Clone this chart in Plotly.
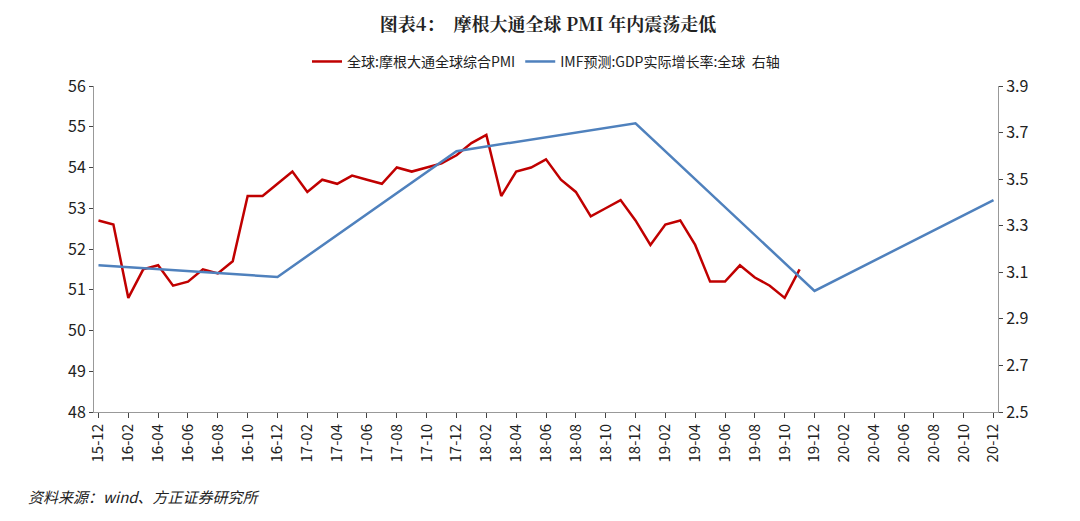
import plotly.graph_objects as go

months = [f"{y:02d}-{m:02d}" for y, m in [(15, 12)] + [(y, m) for y in range(16, 21) for m in range(1, 13)]]

pmi = [52.7, 52.6, 50.8, 51.5, 51.6, 51.1, 51.2, 51.5, 51.4, 51.7, 53.3, 53.3,
       53.6, 53.9, 53.4, 53.7, 53.6, 53.8, 53.7, 53.6, 54.0, 53.9, 54.0, 54.1,
       54.3, 54.6, 54.8, 53.3, 53.9, 54.0, 54.2, 53.7, 53.4, 52.8, 53.0, 53.2,
       52.7, 52.1, 52.6, 52.7, 52.1, 51.2, 51.2, 51.6, 51.3, 51.1, 50.8, 51.5]

gdp_months = ["15-12", "16-12", "17-12", "18-12", "19-12", "20-12"]
gdp_vals = [3.13, 3.08, 3.62, 3.74, 3.02, 3.41]

tick_labels = months[::2]
right_ticks = [2.5, 2.7, 2.9, 3.1, 3.3, 3.5, 3.7, 3.9]

fig = go.Figure()
fig.add_trace(go.Scatter(x=months[:len(pmi)], y=pmi, mode="lines", name="全球:摩根大通全球综合PMI",
                         line=dict(color="#C00000", width=2.5)))
fig.add_trace(go.Scatter(x=gdp_months, y=gdp_vals, mode="lines", name="IMF预测:GDP实际增长率:全球  右轴",
                         line=dict(color="#4F81BD", width=2.5), yaxis="y2"))

font = "Noto Sans CJK SC"
fig.update_layout(
    width=1080, height=521, paper_bgcolor="white", plot_bgcolor="white",
    margin=dict(l=86, r=90, t=78, b=117),
    font=dict(family=font, size=15, color="#222"),
    title=dict(text="<b>图表4：  摩根大通全球 PMI 年内震荡走低</b>", x=0.5, y=0.968, xanchor="center",
               yanchor="middle", font=dict(family="Noto Serif CJK SC, " + font, size=18)),
    legend=dict(orientation="h", x=0.5, xanchor="center", y=1.074, yanchor="middle",
                font=dict(size=14), traceorder="normal"),
    xaxis=dict(type="category", categoryorder="array", categoryarray=months,
               tickvals=tick_labels, tickangle=-90, ticks="outside", ticklen=5,
               showline=True, linecolor="#999", showgrid=False, range=[-0.3, 60.3]),
    yaxis=dict(range=[48, 56], dtick=1, showline=True, linecolor="#999", showgrid=False,
               ticks="outside", ticklen=4, tickfont=dict(size=16)),
    yaxis2=dict(range=[2.5, 3.9], tickvals=right_ticks, overlaying="y", side="right", showline=True,
                linecolor="#999", showgrid=False, ticks="outside", ticklen=4, tickformat=".1f",
                tickfont=dict(size=16)),
)
fig.add_annotation(text="<i>资料来源：wind、方正证券研究所</i>", xref="paper", yref="paper",
                   x=-0.075, y=-0.26, xanchor="left", yanchor="middle", showarrow=False, font=dict(size=15))
fig.write_html("out.html")
